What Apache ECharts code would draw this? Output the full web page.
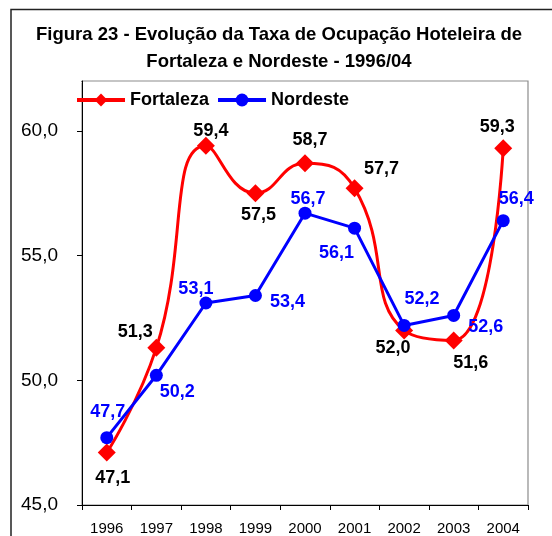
<!DOCTYPE html>
<html>
<head>
<meta charset="utf-8">
<script src="https://cdn.jsdelivr.net/npm/echarts@6/dist/echarts.min.js"></script>
<style>
  html, body { margin: 0; padding: 0; background: #fff; }
  #chart { width: 552px; height: 536px; }
</style>
</head>
<body>
<div id="chart"></div>
<script>
// dados
const anos = ['1996', '1997', '1998', '1999', '2000', '2001', '2002', '2003', '2004'];
const fortaleza = [47.1, 51.3, 59.4, 57.5, 58.7, 57.7, 52.0, 51.6, 59.3];
const nordeste = [47.7, 50.2, 53.1, 53.4, 56.7, 56.1, 52.2, 52.6, 56.4];

// deslocamento dos rótulos (px) em relação ao ponto
const offFortaleza = [[6, 25], [-21, -16], [5, -15], [3, 22], [5, -23], [27, -19], [-11, 18], [17, 23], [-6, -21]];
const offNordeste = [[1, -26], [21, 17], [-10, -14], [32, 7], [3, -14], [-18, 25], [18, -26], [32, 12], [13, -22]];

const fmt = (v) => v.toFixed(1).replace('.', ',');

const chart = echarts.init(document.getElementById('chart'));

function withLabels(values, offsets, color) {
  return values.map((v, i) => ({
    value: v,
    label: {
      show: true,
      position: 'inside',
      offset: offsets[i],
      color: color,
      fontSize: 18,
      fontWeight: 'bold',
      fontFamily: 'Liberation Sans',
      formatter: (p) => fmt(p.value)
    }
  }));
}

const option = {
  backgroundColor: '#fff',
  animation: false,
  title: {
    text: 'Figura 23 - Evolução da Taxa de Ocupação Hoteleira de\nFortaleza e Nordeste - 1996/04',
    left: 279,
    top: 21,
    padding: 0,
    textAlign: 'center',
    textStyle: {
      fontFamily: 'Liberation Sans',
      fontSize: 18.5,
      fontWeight: 'bold',
      color: '#000',
      lineHeight: 27
    }
  },
  legend: {
    left: 75,
    top: 91,
    padding: 0,
    itemWidth: 48,
    itemHeight: 16,
    itemGap: 7,
    lineStyle: { width: 4 },
    textStyle: {
      fontFamily: 'Liberation Sans',
      fontSize: 18,
      fontWeight: 'bold',
      color: '#000'
    },
    data: ['Fortaleza', 'Nordeste']
  },
  grid: {
    left: 82,
    right: 24,
    top: 81,
    bottom: 31
  },
  xAxis: {
    type: 'category',
    data: anos,
    boundaryGap: true,
    axisLine: { lineStyle: { color: '#000', width: 1 } },
    axisTick: { show: true, length: 5, lineStyle: { color: '#000' } },
    axisLabel: {
      color: '#000',
      fontFamily: 'Liberation Sans',
      fontSize: 15,
      margin: 16
    },
    splitLine: { show: false }
  },
  yAxis: {
    type: 'value',
    min: 45,
    max: 62,
    interval: 5,
    axisLine: { show: true, lineStyle: { color: '#000', width: 1 } },
    axisTick: { show: true, length: 5, lineStyle: { color: '#000' } },
    axisLabel: {
      color: '#000',
      fontFamily: 'Liberation Sans',
      fontSize: 19,
      margin: 24,
      formatter: (v) => (v % 5 === 0 ? fmt(v) : '')
    },
    splitLine: { show: false }
  },
  graphic: [
    // moldura externa
    {
      type: 'rect',
      shape: { x: 11, y: 9.5, width: 560, height: 560 },
      style: { fill: 'none', stroke: '#222', lineWidth: 1.5 },
      silent: true
    },
    // borda da área de plotagem
    {
      type: 'rect',
      shape: { x: 82, y: 81, width: 446, height: 424 },
      style: { fill: 'none', stroke: '#8c8c8c', lineWidth: 1.2 },
      silent: true,
      z: -1
    },
    // esconde o tick do topo (62)
    {
      type: 'rect',
      shape: { x: 74, y: 78, width: 7.5, height: 5 },
      style: { fill: '#fff' },
      silent: true,
      z: 100
    }
  ],
  series: [
    {
      name: 'Fortaleza',
      type: 'line',
      smooth: 0.5,
      data: withLabels(fortaleza, offFortaleza, '#000'),
      symbol: 'diamond',
      symbolSize: 18,
      itemStyle: { color: '#ff0000' },
      lineStyle: { color: '#ff0000', width: 3 },
      z: 2
    },
    {
      name: 'Nordeste',
      type: 'line',
      data: withLabels(nordeste, offNordeste, '#0000ff'),
      symbol: 'circle',
      symbolSize: 13,
      itemStyle: { color: '#0000ff' },
      lineStyle: { color: '#0000ff', width: 3 },
      z: 3
    }
  ]
};

chart.setOption(option);
</script>
</body>
</html>
